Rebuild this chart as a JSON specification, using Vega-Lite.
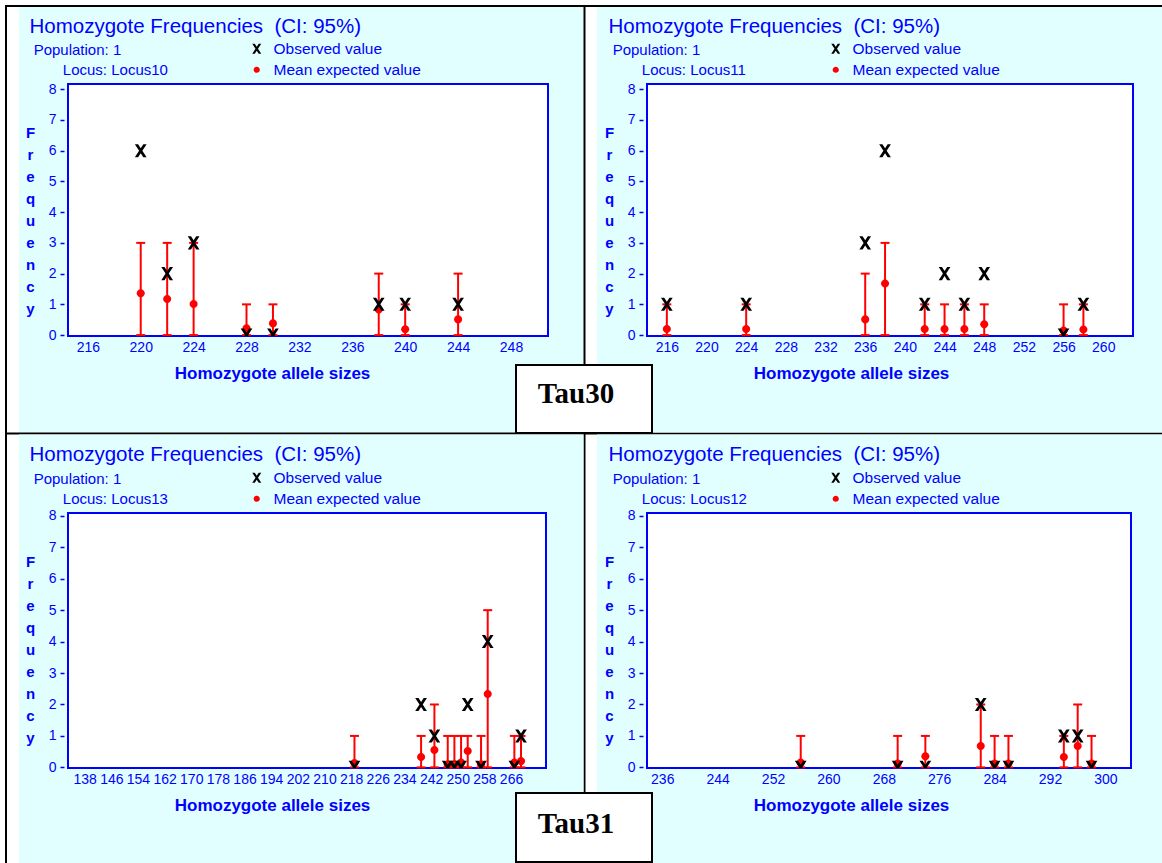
{
  "$schema": "https://vega.github.io/schema/vega-lite/v6.json",
  "background": "white",
  "padding": 0,
  "autosize": {"type": "pad"},
  "bounds": "flush",
  "columns": 2,
  "spacing": {"row": 177, "column": 99},
  "config": {
    "view": {"stroke": null},
    "font": "Liberation Sans",
    "axisX": {
      "domain": false, "grid": false, "ticks": false, "labelPadding": 4,
      "labelColor": "#0000ff", "labelFontSize": 14, "labelOverlap": false, "labelFlush": false,
      "titleColor": "#0000ff", "titleFontSize": 17, "titleFontWeight": "bold",
      "titleX": 204, "titleY": 42, "titleAlign": "center", "titleBaseline": "alphabetic"
    },
    "axisY": {
      "domain": false, "grid": false, "ticks": true, "tickSize": 4, "tickColor": "#0000ff", "tickWidth": 1.5,
      "offset": 4, "labelPadding": 4, "labelColor": "#0000ff", "labelFontSize": 14,
      "titleAngle": 0, "titleAlign": "center", "titleBaseline": "alphabetic",
      "titleX": -34, "titleY": 53, "titleLineHeight": 22, "titleFontSize": 15,
      "titleFontWeight": "bold", "titleColor": "#0000ff"
    },
    "title": {
      "anchor": "start", "frame": "group", "dx": -38.5,
      "font": "Liberation Sans", "fontSize": 20.5, "fontWeight": "normal", "color": "#0000ff",
      "subtitleFont": "Liberation Sans", "subtitleFontSize": 15, "subtitleColor": "#0000ff",
      "subtitlePadding": 6, "subtitleLineHeight": 20
    }
  },
  "datasets": {
    "tl_pts": [
      {"allele": 220, "freq": 1.36, "kind": "Mean expected value"},
      {"allele": 222, "freq": 1.17, "kind": "Mean expected value"},
      {"allele": 224, "freq": 1.01, "kind": "Mean expected value"},
      {"allele": 228, "freq": 0.22, "kind": "Mean expected value"},
      {"allele": 230, "freq": 0.38, "kind": "Mean expected value"},
      {"allele": 238, "freq": 0.83, "kind": "Mean expected value"},
      {"allele": 240, "freq": 0.19, "kind": "Mean expected value"},
      {"allele": 244, "freq": 0.51, "kind": "Mean expected value"},
      {"allele": 220, "freq": 6, "kind": "Observed value"},
      {"allele": 222, "freq": 2, "kind": "Observed value"},
      {"allele": 224, "freq": 3, "kind": "Observed value"},
      {"allele": 228, "freq": 0, "kind": "Observed value"},
      {"allele": 230, "freq": 0, "kind": "Observed value"},
      {"allele": 238, "freq": 1, "kind": "Observed value"},
      {"allele": 240, "freq": 1, "kind": "Observed value"},
      {"allele": 244, "freq": 1, "kind": "Observed value"}
    ],
    "tl_ci": [
      {"allele": 220, "lo": 0, "hi": 3},
      {"allele": 222, "lo": 0, "hi": 3},
      {"allele": 224, "lo": 0, "hi": 3},
      {"allele": 228, "lo": 0, "hi": 1},
      {"allele": 230, "lo": 0, "hi": 1},
      {"allele": 238, "lo": 0, "hi": 2},
      {"allele": 240, "lo": 0, "hi": 1},
      {"allele": 244, "lo": 0, "hi": 2}
    ],
    "tr_pts": [
      {"allele": 216, "freq": 0.2, "kind": "Mean expected value"},
      {"allele": 224, "freq": 0.2, "kind": "Mean expected value"},
      {"allele": 236, "freq": 0.51, "kind": "Mean expected value"},
      {"allele": 238, "freq": 1.68, "kind": "Mean expected value"},
      {"allele": 242, "freq": 0.2, "kind": "Mean expected value"},
      {"allele": 244, "freq": 0.2, "kind": "Mean expected value"},
      {"allele": 246, "freq": 0.2, "kind": "Mean expected value"},
      {"allele": 248, "freq": 0.35, "kind": "Mean expected value"},
      {"allele": 256, "freq": 0.15, "kind": "Mean expected value"},
      {"allele": 258, "freq": 0.18, "kind": "Mean expected value"},
      {"allele": 216, "freq": 1, "kind": "Observed value"},
      {"allele": 224, "freq": 1, "kind": "Observed value"},
      {"allele": 236, "freq": 3, "kind": "Observed value"},
      {"allele": 238, "freq": 6, "kind": "Observed value"},
      {"allele": 242, "freq": 1, "kind": "Observed value"},
      {"allele": 244, "freq": 2, "kind": "Observed value"},
      {"allele": 246, "freq": 1, "kind": "Observed value"},
      {"allele": 248, "freq": 2, "kind": "Observed value"},
      {"allele": 256, "freq": 0, "kind": "Observed value"},
      {"allele": 258, "freq": 1, "kind": "Observed value"}
    ],
    "tr_ci": [
      {"allele": 216, "lo": 0, "hi": 1},
      {"allele": 224, "lo": 0, "hi": 1},
      {"allele": 236, "lo": 0, "hi": 2},
      {"allele": 238, "lo": 0, "hi": 3},
      {"allele": 242, "lo": 0, "hi": 1},
      {"allele": 244, "lo": 0, "hi": 1},
      {"allele": 246, "lo": 0, "hi": 1},
      {"allele": 248, "lo": 0, "hi": 1},
      {"allele": 256, "lo": 0, "hi": 1},
      {"allele": 258, "lo": 0, "hi": 1}
    ],
    "bl_pts": [
      {"allele": 219, "freq": 0.14, "kind": "Mean expected value"},
      {"allele": 239, "freq": 0.33, "kind": "Mean expected value"},
      {"allele": 243, "freq": 0.55, "kind": "Mean expected value"},
      {"allele": 247, "freq": 0.1, "kind": "Mean expected value"},
      {"allele": 249, "freq": 0.1, "kind": "Mean expected value"},
      {"allele": 251, "freq": 0.15, "kind": "Mean expected value"},
      {"allele": 253, "freq": 0.52, "kind": "Mean expected value"},
      {"allele": 257, "freq": 0.1, "kind": "Mean expected value"},
      {"allele": 259, "freq": 2.33, "kind": "Mean expected value"},
      {"allele": 267, "freq": 0.15, "kind": "Mean expected value"},
      {"allele": 269, "freq": 0.2, "kind": "Mean expected value"},
      {"allele": 219, "freq": 0, "kind": "Observed value"},
      {"allele": 239, "freq": 2, "kind": "Observed value"},
      {"allele": 243, "freq": 1, "kind": "Observed value"},
      {"allele": 247, "freq": 0, "kind": "Observed value"},
      {"allele": 249, "freq": 0, "kind": "Observed value"},
      {"allele": 251, "freq": 0, "kind": "Observed value"},
      {"allele": 253, "freq": 2, "kind": "Observed value"},
      {"allele": 257, "freq": 0, "kind": "Observed value"},
      {"allele": 259, "freq": 4, "kind": "Observed value"},
      {"allele": 267, "freq": 0, "kind": "Observed value"},
      {"allele": 269, "freq": 1, "kind": "Observed value"}
    ],
    "bl_ci": [
      {"allele": 219, "lo": 0, "hi": 1},
      {"allele": 239, "lo": 0, "hi": 1},
      {"allele": 243, "lo": 0, "hi": 2},
      {"allele": 247, "lo": 0, "hi": 1},
      {"allele": 249, "lo": 0, "hi": 1},
      {"allele": 251, "lo": 0, "hi": 1},
      {"allele": 253, "lo": 0, "hi": 1},
      {"allele": 257, "lo": 0, "hi": 1},
      {"allele": 259, "lo": 0, "hi": 5},
      {"allele": 267, "lo": 0, "hi": 1},
      {"allele": 269, "lo": 0, "hi": 1}
    ],
    "br_pts": [
      {"allele": 256, "freq": 0.15, "kind": "Mean expected value"},
      {"allele": 270, "freq": 0.12, "kind": "Mean expected value"},
      {"allele": 274, "freq": 0.35, "kind": "Mean expected value"},
      {"allele": 282, "freq": 0.68, "kind": "Mean expected value"},
      {"allele": 284, "freq": 0.12, "kind": "Mean expected value"},
      {"allele": 286, "freq": 0.12, "kind": "Mean expected value"},
      {"allele": 294, "freq": 0.33, "kind": "Mean expected value"},
      {"allele": 296, "freq": 0.68, "kind": "Mean expected value"},
      {"allele": 298, "freq": 0.12, "kind": "Mean expected value"},
      {"allele": 256, "freq": 0, "kind": "Observed value"},
      {"allele": 270, "freq": 0, "kind": "Observed value"},
      {"allele": 274, "freq": 0, "kind": "Observed value"},
      {"allele": 282, "freq": 2, "kind": "Observed value"},
      {"allele": 284, "freq": 0, "kind": "Observed value"},
      {"allele": 286, "freq": 0, "kind": "Observed value"},
      {"allele": 294, "freq": 1, "kind": "Observed value"},
      {"allele": 296, "freq": 1, "kind": "Observed value"},
      {"allele": 298, "freq": 0, "kind": "Observed value"}
    ],
    "br_ci": [
      {"allele": 256, "lo": 0, "hi": 1},
      {"allele": 270, "lo": 0, "hi": 1},
      {"allele": 274, "lo": 0, "hi": 1},
      {"allele": 282, "lo": 0, "hi": 2},
      {"allele": 284, "lo": 0, "hi": 1},
      {"allele": 286, "lo": 0, "hi": 1},
      {"allele": 294, "lo": 0, "hi": 1},
      {"allele": 296, "lo": 0, "hi": 2},
      {"allele": 298, "lo": 0, "hi": 1}
    ]
  },
  "resolve": {
    "scale": {"x": "independent", "y": "independent", "color": "independent", "shape": "independent"},
    "legend": {"color": "independent", "shape": "independent"}
  },
  "concat": [
    {
      "width": 480, "height": 252,
      "title": {"text": "Homozygote Frequencies\u00a0\u00a0(CI: 95%)", "subtitle": ["\u200b\u00a0Population: 1", "\u200b\u00a0\u00a0\u00a0\u00a0\u00a0\u00a0\u00a0\u00a0Locus: Locus10"], "offset": -78, "zindex": 1},
      "encoding": {
        "x": {"field": "allele", "type": "quantitative", "title": "Homozygote allele sizes",
              "scale": {"domain": [214.5, 250.8], "nice": false, "zero": false},
              "axis": {"values": [216, 220, 224, 228, 232, 236, 240, 244, 248], "zindex": 1}}
      },
      "layer": [
        {"data": {"values": [{}]}, "mark": {"type": "rect", "fill": "white", "strokeWidth": 0},
         "encoding": {"x": {"value": -68}, "x2": {"value": 1094}, "y": {"value": -84}, "y2": {"value": 779}}},
        {"data": {"values": [{}]}, "mark": {"type": "rect", "fill": "#e1ffff", "strokeWidth": 0},
         "encoding": {"x": {"value": -49}, "x2": {"value": 515.5}, "y": {"value": -77}, "y2": {"value": 348.5}}},
        {"data": {"values": [{}]}, "mark": {"type": "rule", "color": "black", "strokeWidth": 2},
         "encoding": {"x": {"value": -63}, "x2": {"value": 1094}, "y": {"value": -78}, "y2": {"value": -78}}},
        {"data": {"values": [{}]}, "mark": {"type": "rule", "color": "black", "strokeWidth": 2},
         "encoding": {"x": {"value": -62}, "x2": {"value": -62}, "y": {"value": -79}, "y2": {"value": 779}}},
        {"data": {"values": [{}]}, "mark": {"type": "rule", "color": "black", "strokeWidth": 2},
         "encoding": {"x": {"value": 516.5}, "x2": {"value": 516.5}, "y": {"value": -79}, "y2": {"value": 779}}},
        {"data": {"values": [{}]}, "mark": {"type": "rule", "color": "black", "strokeWidth": 2},
         "encoding": {"x": {"value": -63}, "x2": {"value": 1094}, "y": {"value": 349.5}, "y2": {"value": 349.5}}},
        {"data": {"values": [{}]}, "mark": {"type": "rect", "fill": "white", "stroke": "#0000ff", "strokeWidth": 2},
         "encoding": {"x": {"value": 0}, "x2": {"value": "width"}, "y": {"value": 0}, "y2": {"value": "height"}}},
        {"data": {"name": "tl_ci"}, "mark": {"type": "rule", "color": "#ff0000", "strokeWidth": 2},
         "encoding": {
           "y": {"field": "lo", "type": "quantitative", "title": ["F", "r", "e", "q", "u", "e", "n", "c", "y"],
                 "scale": {"domain": [-0.03, 8.17], "nice": false, "zero": false},
                 "axis": {"values": [0, 1, 2, 3, 4, 5, 6, 7, 8], "zindex": 1}},
           "y2": {"field": "hi"}}},
        {"data": {"name": "tl_ci"}, "mark": {"type": "tick", "orient": "horizontal", "color": "#ff0000", "size": 9, "thickness": 2, "opacity": 1},
         "encoding": {
           "y": {"field": "lo", "type": "quantitative", "title": ["F", "r", "e", "q", "u", "e", "n", "c", "y"],
                 "scale": {"domain": [-0.03, 8.17], "nice": false, "zero": false},
                 "axis": {"values": [0, 1, 2, 3, 4, 5, 6, 7, 8], "zindex": 1}}}},
        {"data": {"name": "tl_ci"}, "mark": {"type": "tick", "orient": "horizontal", "color": "#ff0000", "size": 9, "thickness": 2, "opacity": 1},
         "encoding": {
           "y": {"field": "hi", "type": "quantitative", "title": ["F", "r", "e", "q", "u", "e", "n", "c", "y"],
                 "scale": {"domain": [-0.03, 8.17], "nice": false, "zero": false},
                 "axis": {"values": [0, 1, 2, 3, 4, 5, 6, 7, 8], "zindex": 1}}}},
        {"data": {"name": "tl_pts"}, "mark": {"type": "point", "filled": true, "clip": true, "size": 170, "opacity": 1, "strokeWidth": 0},
         "encoding": {
           "y": {"field": "freq", "type": "quantitative", "title": ["F", "r", "e", "q", "u", "e", "n", "c", "y"],
                 "scale": {"domain": [-0.03, 8.17], "nice": false, "zero": false},
                 "axis": {"values": [0, 1, 2, 3, 4, 5, 6, 7, 8], "zindex": 1}},
           "shape": {"field": "kind", "type": "nominal",
                     "scale": {"domain": ["Observed value", "Mean expected value"], "range": ["M-0.9,-1L-0.4,-1L0,-0.385L0.4,-1L0.9,-1L0.25,0L0.9,1L0.4,1L0,0.385L-0.4,1L-0.9,1L-0.25,0Z", "M0.62,0A0.62,0.62,0,1,1,-0.62,0A0.62,0.62,0,1,1,0.62,0Z"]},
                     "legend": {"orient": "none", "legendX": 181, "legendY": -43, "title": null, "direction": "vertical", "labelColor": "#0000ff", "labelFont": "Liberation Sans", "labelFontSize": 15.5, "symbolSize": 100, "labelOffset": 9, "rowPadding": 4, "padding": 0, "zindex": 1, "symbolStrokeWidth": 0}},
           "color": {"field": "kind", "type": "nominal",
                     "scale": {"domain": ["Observed value", "Mean expected value"], "range": ["#000000", "#ff0000"]},
                     "legend": {"orient": "none", "legendX": 181, "legendY": -43, "title": null, "direction": "vertical", "labelColor": "#0000ff", "labelFont": "Liberation Sans", "labelFontSize": 15.5, "symbolSize": 100, "labelOffset": 9, "rowPadding": 4, "padding": 0, "zindex": 1, "symbolStrokeWidth": 0}}}}
      ]
    },
    {
      "width": 486, "height": 252,
      "title": {"text": "Homozygote Frequencies\u00a0\u00a0(CI: 95%)", "subtitle": ["\u200b\u00a0Population: 1", "\u200b\u00a0\u00a0\u00a0\u00a0\u00a0\u00a0\u00a0\u00a0Locus: Locus11"], "offset": -71, "zindex": 1},
      "encoding": {
        "x": {"field": "allele", "type": "quantitative", "title": "Homozygote allele sizes",
              "scale": {"domain": [214, 263], "nice": false, "zero": false},
              "axis": {"values": [216, 220, 224, 228, 232, 236, 240, 244, 248, 252, 256, 260], "zindex": 1}}
      },
      "layer": [
        {"data": {"values": [{}]}, "mark": {"type": "rect", "fill": "#e1ffff", "strokeWidth": 0},
         "encoding": {"x": {"value": -50}, "x2": {"value": 515}, "y": {"value": -77}, "y2": {"value": 348.5}}},
        {"data": {"values": [{}]}, "mark": {"type": "rect", "fill": "white", "stroke": "#0000ff", "strokeWidth": 2},
         "encoding": {"x": {"value": 0}, "x2": {"value": "width"}, "y": {"value": 0}, "y2": {"value": "height"}}},
        {"data": {"name": "tr_ci"}, "mark": {"type": "rule", "color": "#ff0000", "strokeWidth": 2},
         "encoding": {
           "y": {"field": "lo", "type": "quantitative", "title": ["F", "r", "e", "q", "u", "e", "n", "c", "y"],
                 "scale": {"domain": [-0.03, 8.17], "nice": false, "zero": false},
                 "axis": {"values": [0, 1, 2, 3, 4, 5, 6, 7, 8], "zindex": 1}},
           "y2": {"field": "hi"}}},
        {"data": {"name": "tr_ci"}, "mark": {"type": "tick", "orient": "horizontal", "color": "#ff0000", "size": 9, "thickness": 2, "opacity": 1},
         "encoding": {
           "y": {"field": "lo", "type": "quantitative", "title": ["F", "r", "e", "q", "u", "e", "n", "c", "y"],
                 "scale": {"domain": [-0.03, 8.17], "nice": false, "zero": false},
                 "axis": {"values": [0, 1, 2, 3, 4, 5, 6, 7, 8], "zindex": 1}}}},
        {"data": {"name": "tr_ci"}, "mark": {"type": "tick", "orient": "horizontal", "color": "#ff0000", "size": 9, "thickness": 2, "opacity": 1},
         "encoding": {
           "y": {"field": "hi", "type": "quantitative", "title": ["F", "r", "e", "q", "u", "e", "n", "c", "y"],
                 "scale": {"domain": [-0.03, 8.17], "nice": false, "zero": false},
                 "axis": {"values": [0, 1, 2, 3, 4, 5, 6, 7, 8], "zindex": 1}}}},
        {"data": {"name": "tr_pts"}, "mark": {"type": "point", "filled": true, "clip": true, "size": 170, "opacity": 1, "strokeWidth": 0},
         "encoding": {
           "y": {"field": "freq", "type": "quantitative", "title": ["F", "r", "e", "q", "u", "e", "n", "c", "y"],
                 "scale": {"domain": [-0.03, 8.17], "nice": false, "zero": false},
                 "axis": {"values": [0, 1, 2, 3, 4, 5, 6, 7, 8], "zindex": 1}},
           "shape": {"field": "kind", "type": "nominal",
                     "scale": {"domain": ["Observed value", "Mean expected value"], "range": ["M-0.9,-1L-0.4,-1L0,-0.385L0.4,-1L0.9,-1L0.25,0L0.9,1L0.4,1L0,0.385L-0.4,1L-0.9,1L-0.25,0Z", "M0.62,0A0.62,0.62,0,1,1,-0.62,0A0.62,0.62,0,1,1,0.62,0Z"]},
                     "legend": {"orient": "none", "legendX": 181, "legendY": -43, "title": null, "direction": "vertical", "labelColor": "#0000ff", "labelFont": "Liberation Sans", "labelFontSize": 15.5, "symbolSize": 100, "labelOffset": 9, "rowPadding": 4, "padding": 0, "zindex": 1, "symbolStrokeWidth": 0}},
           "color": {"field": "kind", "type": "nominal",
                     "scale": {"domain": ["Observed value", "Mean expected value"], "range": ["#000000", "#ff0000"]},
                     "legend": {"orient": "none", "legendX": 181, "legendY": -43, "title": null, "direction": "vertical", "labelColor": "#0000ff", "labelFont": "Liberation Sans", "labelFontSize": 15.5, "symbolSize": 100, "labelOffset": 9, "rowPadding": 4, "padding": 0, "zindex": 1, "symbolStrokeWidth": 0}}}},
        {"data": {"values": [{}]}, "mark": {"type": "rect", "fill": "white", "stroke": "black", "strokeWidth": 2},
         "encoding": {"x": {"value": -131}, "x2": {"value": 5}, "y": {"value": 281}, "y2": {"value": 349}}},
        {"data": {"values": [{}]}, "mark": {"type": "text", "font": "Liberation Serif", "fontSize": 29, "fontWeight": "bold", "color": "black", "align": "center", "baseline": "alphabetic"},
         "encoding": {"x": {"value": -71}, "y": {"value": 319}, "text": {"value": "Tau30"}}}
      ]
    },
    {
      "width": 478, "height": 255,
      "title": {"text": "Homozygote Frequencies\u00a0\u00a0(CI: 95%)", "subtitle": ["\u200b\u00a0Population: 1", "\u200b\u00a0\u00a0\u00a0\u00a0\u00a0\u00a0\u00a0\u00a0Locus: Locus13"], "offset": -72, "zindex": 1},
      "encoding": {
        "x": {"field": "allele", "type": "quantitative", "title": "Homozygote allele sizes",
              "scale": {"domain": [133, 276.5], "nice": false, "zero": false},
              "axis": {"values": [138, 146, 154, 162, 170, 178, 186, 194, 202, 210, 218, 226, 234, 242, 250, 258, 266], "zindex": 1}}
      },
      "layer": [
        {"data": {"values": [{}]}, "mark": {"type": "rect", "fill": "#e1ffff", "strokeWidth": 0},
         "encoding": {"x": {"value": -49}, "x2": {"value": 515.5}, "y": {"value": -78.5}, "y2": {"value": 350}}},
        {"data": {"values": [{}]}, "mark": {"type": "rect", "fill": "white", "stroke": "#0000ff", "strokeWidth": 2},
         "encoding": {"x": {"value": 0}, "x2": {"value": "width"}, "y": {"value": 0}, "y2": {"value": "height"}}},
        {"data": {"name": "bl_ci"}, "mark": {"type": "rule", "color": "#ff0000", "strokeWidth": 2},
         "encoding": {
           "y": {"field": "lo", "type": "quantitative", "title": ["F", "r", "e", "q", "u", "e", "n", "c", "y"],
                 "scale": {"domain": [-0.02, 8.09], "nice": false, "zero": false},
                 "axis": {"values": [0, 1, 2, 3, 4, 5, 6, 7, 8], "zindex": 1}},
           "y2": {"field": "hi"}}},
        {"data": {"name": "bl_ci"}, "mark": {"type": "tick", "orient": "horizontal", "color": "#ff0000", "size": 9, "thickness": 2, "opacity": 1},
         "encoding": {
           "y": {"field": "lo", "type": "quantitative", "title": ["F", "r", "e", "q", "u", "e", "n", "c", "y"],
                 "scale": {"domain": [-0.02, 8.09], "nice": false, "zero": false},
                 "axis": {"values": [0, 1, 2, 3, 4, 5, 6, 7, 8], "zindex": 1}}}},
        {"data": {"name": "bl_ci"}, "mark": {"type": "tick", "orient": "horizontal", "color": "#ff0000", "size": 9, "thickness": 2, "opacity": 1},
         "encoding": {
           "y": {"field": "hi", "type": "quantitative", "title": ["F", "r", "e", "q", "u", "e", "n", "c", "y"],
                 "scale": {"domain": [-0.02, 8.09], "nice": false, "zero": false},
                 "axis": {"values": [0, 1, 2, 3, 4, 5, 6, 7, 8], "zindex": 1}}}},
        {"data": {"name": "bl_pts"}, "mark": {"type": "point", "filled": true, "clip": true, "size": 170, "opacity": 1, "strokeWidth": 0},
         "encoding": {
           "y": {"field": "freq", "type": "quantitative", "title": ["F", "r", "e", "q", "u", "e", "n", "c", "y"],
                 "scale": {"domain": [-0.02, 8.09], "nice": false, "zero": false},
                 "axis": {"values": [0, 1, 2, 3, 4, 5, 6, 7, 8], "zindex": 1}},
           "shape": {"field": "kind", "type": "nominal",
                     "scale": {"domain": ["Observed value", "Mean expected value"], "range": ["M-0.9,-1L-0.4,-1L0,-0.385L0.4,-1L0.9,-1L0.25,0L0.9,1L0.4,1L0,0.385L-0.4,1L-0.9,1L-0.25,0Z", "M0.62,0A0.62,0.62,0,1,1,-0.62,0A0.62,0.62,0,1,1,0.62,0Z"]},
                     "legend": {"orient": "none", "legendX": 181, "legendY": -43, "title": null, "direction": "vertical", "labelColor": "#0000ff", "labelFont": "Liberation Sans", "labelFontSize": 15.5, "symbolSize": 100, "labelOffset": 9, "rowPadding": 4, "padding": 0, "zindex": 1, "symbolStrokeWidth": 0}},
           "color": {"field": "kind", "type": "nominal",
                     "scale": {"domain": ["Observed value", "Mean expected value"], "range": ["#000000", "#ff0000"]},
                     "legend": {"orient": "none", "legendX": 181, "legendY": -43, "title": null, "direction": "vertical", "labelColor": "#0000ff", "labelFont": "Liberation Sans", "labelFontSize": 15.5, "symbolSize": 100, "labelOffset": 9, "rowPadding": 4, "padding": 0, "zindex": 1, "symbolStrokeWidth": 0}}}}
      ]
    },
    {
      "width": 484, "height": 255,
      "title": {"text": "Homozygote Frequencies\u00a0\u00a0(CI: 95%)", "subtitle": ["\u200b\u00a0Population: 1", "\u200b\u00a0\u00a0\u00a0\u00a0\u00a0\u00a0\u00a0\u00a0Locus: Locus12"], "offset": -72, "zindex": 1},
      "encoding": {
        "x": {"field": "allele", "type": "quantitative", "title": "Homozygote allele sizes",
              "scale": {"domain": [233.8, 303.7], "nice": false, "zero": false},
              "axis": {"values": [236, 244, 252, 260, 268, 276, 284, 292, 300], "zindex": 1}}
      },
      "layer": [
        {"data": {"values": [{}]}, "mark": {"type": "rect", "fill": "#e1ffff", "strokeWidth": 0},
         "encoding": {"x": {"value": -50}, "x2": {"value": 515}, "y": {"value": -78.5}, "y2": {"value": 350}}},
        {"data": {"values": [{}]}, "mark": {"type": "rect", "fill": "white", "stroke": "#0000ff", "strokeWidth": 2},
         "encoding": {"x": {"value": 0}, "x2": {"value": "width"}, "y": {"value": 0}, "y2": {"value": "height"}}},
        {"data": {"name": "br_ci"}, "mark": {"type": "rule", "color": "#ff0000", "strokeWidth": 2},
         "encoding": {
           "y": {"field": "lo", "type": "quantitative", "title": ["F", "r", "e", "q", "u", "e", "n", "c", "y"],
                 "scale": {"domain": [-0.02, 8.09], "nice": false, "zero": false},
                 "axis": {"values": [0, 1, 2, 3, 4, 5, 6, 7, 8], "zindex": 1}},
           "y2": {"field": "hi"}}},
        {"data": {"name": "br_ci"}, "mark": {"type": "tick", "orient": "horizontal", "color": "#ff0000", "size": 9, "thickness": 2, "opacity": 1},
         "encoding": {
           "y": {"field": "lo", "type": "quantitative", "title": ["F", "r", "e", "q", "u", "e", "n", "c", "y"],
                 "scale": {"domain": [-0.02, 8.09], "nice": false, "zero": false},
                 "axis": {"values": [0, 1, 2, 3, 4, 5, 6, 7, 8], "zindex": 1}}}},
        {"data": {"name": "br_ci"}, "mark": {"type": "tick", "orient": "horizontal", "color": "#ff0000", "size": 9, "thickness": 2, "opacity": 1},
         "encoding": {
           "y": {"field": "hi", "type": "quantitative", "title": ["F", "r", "e", "q", "u", "e", "n", "c", "y"],
                 "scale": {"domain": [-0.02, 8.09], "nice": false, "zero": false},
                 "axis": {"values": [0, 1, 2, 3, 4, 5, 6, 7, 8], "zindex": 1}}}},
        {"data": {"name": "br_pts"}, "mark": {"type": "point", "filled": true, "clip": true, "size": 170, "opacity": 1, "strokeWidth": 0},
         "encoding": {
           "y": {"field": "freq", "type": "quantitative", "title": ["F", "r", "e", "q", "u", "e", "n", "c", "y"],
                 "scale": {"domain": [-0.02, 8.09], "nice": false, "zero": false},
                 "axis": {"values": [0, 1, 2, 3, 4, 5, 6, 7, 8], "zindex": 1}},
           "shape": {"field": "kind", "type": "nominal",
                     "scale": {"domain": ["Observed value", "Mean expected value"], "range": ["M-0.9,-1L-0.4,-1L0,-0.385L0.4,-1L0.9,-1L0.25,0L0.9,1L0.4,1L0,0.385L-0.4,1L-0.9,1L-0.25,0Z", "M0.62,0A0.62,0.62,0,1,1,-0.62,0A0.62,0.62,0,1,1,0.62,0Z"]},
                     "legend": {"orient": "none", "legendX": 181, "legendY": -43, "title": null, "direction": "vertical", "labelColor": "#0000ff", "labelFont": "Liberation Sans", "labelFontSize": 15.5, "symbolSize": 100, "labelOffset": 9, "rowPadding": 4, "padding": 0, "zindex": 1, "symbolStrokeWidth": 0}},
           "color": {"field": "kind", "type": "nominal",
                     "scale": {"domain": ["Observed value", "Mean expected value"], "range": ["#000000", "#ff0000"]},
                     "legend": {"orient": "none", "legendX": 181, "legendY": -43, "title": null, "direction": "vertical", "labelColor": "#0000ff", "labelFont": "Liberation Sans", "labelFontSize": 15.5, "symbolSize": 100, "labelOffset": 9, "rowPadding": 4, "padding": 0, "zindex": 1, "symbolStrokeWidth": 0}}}},
        {"data": {"values": [{}]}, "mark": {"type": "rect", "fill": "white", "stroke": "black", "strokeWidth": 2},
         "encoding": {"x": {"value": -131}, "x2": {"value": 5}, "y": {"value": 280}, "y2": {"value": 349}}},
        {"data": {"values": [{}]}, "mark": {"type": "text", "font": "Liberation Serif", "fontSize": 29, "fontWeight": "bold", "color": "black", "align": "center", "baseline": "alphabetic"},
         "encoding": {"x": {"value": -71}, "y": {"value": 320}, "text": {"value": "Tau31"}}}
      ]
    }
  ]
}
